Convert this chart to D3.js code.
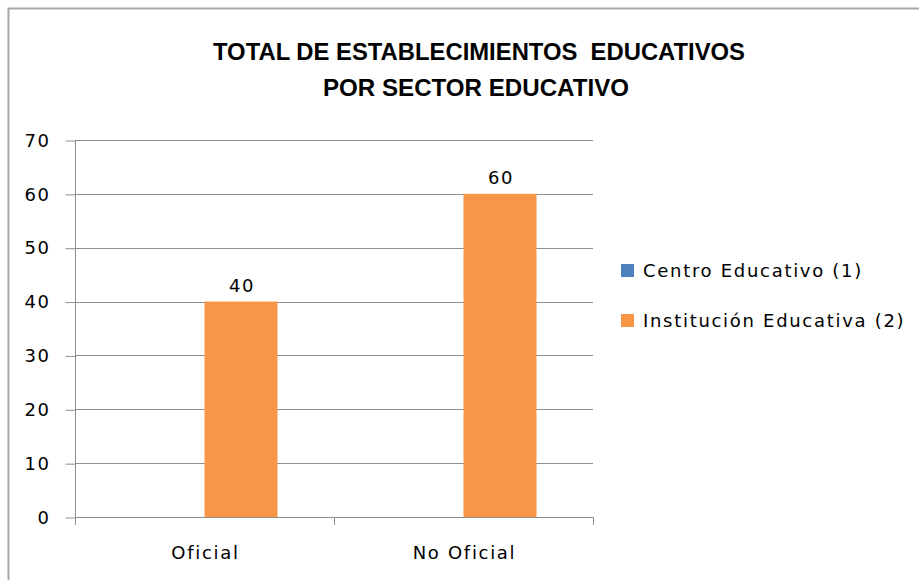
<!DOCTYPE html>
<html>
<head>
<meta charset="utf-8">
<style>
  body { margin: 0; background: #fff; }
  text { font-family: "DejaVu Sans", Verdana, sans-serif; fill: #000; }
</style>
</head>
<body>
<div id="chart"></div>
<script src="https://d3js.org/d3.v7.min.js"></script>
<script>
  // chart data
  const categories = ["Oficial", "No Oficial"];
  const seriesNames = ["Centro Educativo (1)", "Institución Educativa (2)"];
  const centroValues = [0, 0];
  const institucionValues = [40, 60];
  const yTicks = [0, 10, 20, 30, 40, 50, 60, 70];
  const titleLines = ["TOTAL DE ESTABLECIMIENTOS  EDUCATIVOS", "POR SECTOR EDUCATIVO"];

  const colors = ["#4F81BD", "#F79646"];
  const W = 919, H = 580;
  const plot = { left: 75, right: 593, top: 140, bottom: 517 };

  const svg = d3.select("#chart").append("svg")
    .attr("width", W)
    .attr("height", H);

  // outer chart border (only top + left visible)
  svg.append("path")
    .attr("d", `M8.5,${H} V8.5 H${W}`)
    .attr("fill", "none")
    .attr("stroke", "#a8a8a8")
    .attr("stroke-width", 2);

  // title
  const title = svg.append("g")
    .attr("font-weight", "bold")
    .attr("text-anchor", "middle");
  title.selectAll("text")
    .data(titleLines)
    .join("text")
    .attr("x", (d, i) => i === 0 ? 479 : 476)
    .attr("y", (d, i) => 60 + i * 36)
    .attr("font-size", 23)
    .style("font-family", "'Liberation Sans Narrow', 'Liberation Sans', sans-serif")
    .style("white-space", "pre")
    .attr("textLength", (d, i) => i === 0 ? 532 : 306)
    .attr("lengthAdjust", "spacingAndGlyphs")
    .text(d => d);

  const y = d3.scaleLinear().domain([0, 70]).range([plot.bottom, plot.top]);
  const x0 = d3.scaleBand().domain(categories).range([plot.left, plot.right]).padding(0);
  const x1 = d3.scaleBand().domain(seriesNames).range([0, x0.bandwidth()])
    .paddingInner(0).paddingOuter(0.774);

  // gridlines
  svg.append("g")
    .selectAll("line")
    .data(yTicks)
    .join("line")
    .attr("x1", plot.left).attr("x2", plot.right)
    .attr("y1", d => Math.round(y(d)) + 0.5).attr("y2", d => Math.round(y(d)) + 0.5)
    .attr("stroke", "#8f8f8f");

  // y axis
  const yAxis = svg.append("g")
    .attr("transform", `translate(${plot.left + 0.5},0.5)`)
    .call(d3.axisLeft(y).tickValues(yTicks).tickSize(10).tickPadding(15));
  yAxis.select(".domain").attr("stroke", "#8f8f8f").attr("d", `M0,${plot.top}V${plot.bottom}`);
  yAxis.selectAll(".tick line").attr("stroke", "#8f8f8f");
  yAxis.selectAll(".tick text")
    .attr("font-size", 18)
    .attr("letter-spacing", 1.5)
    .style("font-family", "'DejaVu Sans', sans-serif")
    .attr("fill", "#222");

  // bars
  const rows = categories.map((c, i) => ({
    cat: c,
    vals: [
      { name: seriesNames[0], value: centroValues[i] },
      { name: seriesNames[1], value: institucionValues[i] }
    ]
  }));

  const groups = svg.append("g")
    .selectAll("g")
    .data(rows)
    .join("g")
    .attr("transform", d => `translate(${x0(d.cat)},0)`);

  groups.selectAll("rect")
    .data(d => d.vals)
    .join("rect")
    .attr("x", d => x1(d.name))
    .attr("width", x1.bandwidth())
    .attr("y", d => y(d.value))
    .attr("height", d => y(0) - y(d.value))
    .attr("fill", (d, i) => colors[i]);

  // data labels (only the Institución series is labelled)
  groups.selectAll("text.lbl")
    .data(d => d.vals.filter(v => v.name === seriesNames[1]))
    .join("text")
    .attr("class", "lbl")
    .attr("x", d => x1(d.name) + x1.bandwidth() / 2 + 1)
    .attr("y", d => y(d.value) - 10)
    .attr("text-anchor", "middle")
    .attr("font-size", 18)
    .attr("letter-spacing", 1.5)
    .attr("fill", "#222")
    .text(d => d.value);

  // x axis: line at 0 plus tick marks at category boundaries
  const xAxis = svg.append("g");
  xAxis.append("line")
    .attr("x1", plot.left).attr("x2", plot.right)
    .attr("y1", plot.bottom + 0.5).attr("y2", plot.bottom + 0.5)
    .attr("stroke", "#8f8f8f");
  const bounds = categories.map(c => x0(c)).concat([x0(categories[categories.length - 1]) + x0.bandwidth()]);
  xAxis.selectAll("line.tk")
    .data(bounds)
    .join("line")
    .attr("class", "tk")
    .attr("x1", d => Math.round(d) + 0.5).attr("x2", d => Math.round(d) + 0.5)
    .attr("y1", plot.bottom).attr("y2", plot.bottom + 8)
    .attr("stroke", "#8f8f8f");
  xAxis.selectAll("text")
    .data(categories)
    .join("text")
    .attr("x", d => x0(d) + x0.bandwidth() / 2 + 1)
    .attr("y", 559)
    .attr("text-anchor", "middle")
    .attr("font-size", 18)
    .attr("letter-spacing", 1.7)
    .attr("fill", "#222")
    .text(d => d);

  // legend
  const legend = svg.append("g")
    .selectAll("g")
    .data(seriesNames)
    .join("g")
    .attr("transform", (d, i) => `translate(621,${271 + i * 50})`);
  legend.append("rect")
    .attr("x", 0).attr("y", -7)
    .attr("width", 13).attr("height", 13)
    .attr("fill", (d, i) => colors[i]);
  legend.append("text")
    .attr("x", 22)
    .attr("y", 6)
    .attr("font-size", 18)
    .attr("letter-spacing", 1.7)
    .attr("fill", "#222")
    .text(d => d);
</script>
</body>
</html>
